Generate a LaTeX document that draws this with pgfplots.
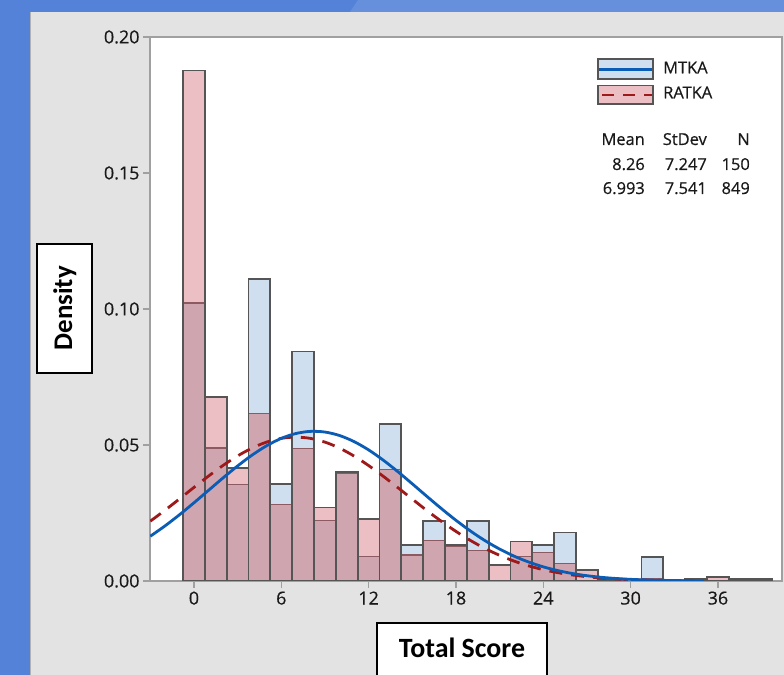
\documentclass[border=0pt]{standalone}
\usepackage{pgfplots}
\pgfplotsset{compat=1.18}
\usepackage{fontspec}
\setmainfont{Open Sans}
\newfontfamily\semib{Open Sans}[FakeBold=0.5]
\newfontfamily\lblfont{Carlito}
\definecolor{bgblue}{HTML}{5482D9}
\definecolor{bgblue2}{HTML}{6690DC}
\definecolor{panel}{HTML}{E3E3E3}
\definecolor{mtkafill}{HTML}{CFDFF0}
\definecolor{ratkafill}{HTML}{EBBFC3}
\definecolor{overlap}{HTML}{CFA6B0}
\definecolor{barline}{HTML}{555555}
\definecolor{innerline}{HTML}{8E5A62}
\definecolor{mtkaline}{HTML}{0B5CB5}
\definecolor{ratkaline}{HTML}{9E1A1A}
\definecolor{axgray}{HTML}{A0A0A0}
\begin{document}
\begin{tikzpicture}[x=1bp,y=1bp]
\useasboundingbox (0,0) rectangle (784,675);
\fill[bgblue] (0,0) rectangle (784,675);
\fill[bgblue2] (350,663) -- (358,675) -- (784,675) -- (784,663) -- cycle;
\fill[panel] (30,0) rectangle (784,663);
\draw[gray!60, line width=1bp] (30.5,0) -- (30.5,663);
\begin{axis}[
  at={(150bp,94bp)}, anchor=south west,
  scale only axis, width=632bp, height=544bp,
  xmin=-3.02, xmax=40.4, ymin=0, ymax=0.2,
  xtick={0,6,12,18,24,30,36},
  ytick={0,0.05,0.10,0.15,0.20},
  tick pos=left, tick align=outside,
  major tick length=7bp,
  tick style={axgray, line width=1.2bp},
  axis line style={axgray, line width=1.5bp},
  axis background/.style={fill=white},
  ticklabel style={font=\semib\fontsize{18}{20}\selectfont, color=black!90},
  /pgf/number format/assume math mode=true,
  yticklabel style={/pgf/number format/fixed, /pgf/number format/fixed zerofill, /pgf/number format/precision=2},
]
% MTKA bars
\addplot[ybar, bar width=1.5, bar shift=0pt, fill=mtkafill, draw=none] coordinates {
(0,0.1022) (1.5,0.0489) (3,0.0356) (4.5,0.1111) (6,0.0356) (7.5,0.0844) (9,0.0222) (10.5,0.0400)
(12,0.0089) (13.5,0.0578) (15,0.0133) (16.5,0.0222) (18,0.0133) (19.5,0.0222)
(22.5,0.0089) (24,0.0133) (25.5,0.0178) (31.5,0.0089)};
% RATKA bars
\addplot[ybar, bar width=1.5, bar shift=0pt, fill=ratkafill, draw=none] coordinates {
(0,0.1877) (1.5,0.0675) (3,0.0416) (4.5,0.0616) (6,0.0280) (7.5,0.0487) (9,0.0270) (10.5,0.0396)
(12,0.0228) (13.5,0.0411) (15,0.0096) (16.5,0.0149) (18,0.0126) (19.5,0.0111) (21,0.0059)
(22.5,0.0145) (24,0.0105) (25.5,0.0065) (27,0.0039) (28.5,0.0008) (31.5,0.0008)
(34.5,0.0008) (36,0.0016) (37.5,0.0008) (39,0.0008)};
% overlap (lower of the two)
\addplot[ybar, bar width=1.5, bar shift=0pt, fill=overlap, draw=innerline, line width=1.3bp] coordinates {
(0,0.1022) (1.5,0.0489) (3,0.0356) (4.5,0.0616) (6,0.0280) (7.5,0.0487) (9,0.0222) (10.5,0.0396)
(12,0.0089) (13.5,0.0411) (15,0.0096) (16.5,0.0149) (18,0.0126) (19.5,0.0111)
(22.5,0.0089) (24,0.0105) (25.5,0.0065) (31.5,0.0008)};
% outlines (higher of the two)
\addplot[ybar, bar width=1.5, bar shift=0pt, fill=none, draw=barline, line width=1.8bp] coordinates {
(0,0.1877) (1.5,0.0675) (3,0.0416) (4.5,0.1111) (6,0.0356) (7.5,0.0844) (9,0.0270) (10.5,0.0400)
(12,0.0228) (13.5,0.0578) (15,0.0133) (16.5,0.0222) (18,0.0133) (19.5,0.0222) (21,0.0059)
(22.5,0.0145) (24,0.0133) (25.5,0.0178) (27,0.0039) (28.5,0.0008) (31.5,0.0089)
(34.5,0.0008) (36,0.0016) (37.5,0.0008) (39,0.0008)};
% RATKA normal fit
\addplot[smooth, ratkaline, line width=2.8bp, dash pattern=on 13bp off 9bp] coordinates {
(-3,0.02199) (-2,0.02598) (-1,0.03016) (0,0.03441) (1,0.03857) (2,0.04249) (3,0.04598)
(4,0.04890) (5,0.05109) (6,0.05244) (7,0.05290) (8,0.05243) (9,0.05106) (10,0.04886)
(11,0.04593) (12,0.04244) (13,0.03852) (14,0.03435) (15,0.03011) (16,0.02592) (17,0.02193)
(18,0.01823) (19,0.01489) (20,0.01195) (21,0.00943) (22,0.00730) (23,0.00556) (24,0.00416)
(25,0.00306) (26,0.00221) (27,0.00157) (28,0.00109) (29,0.00075) (30,0.00050) (31,0.00033)
(32,0.00022) (33,0.00014) (34,0.00009) (35,0.00005)};
% MTKA normal fit
\addplot[smooth, mtkaline, line width=2.8bp] coordinates {
(-3,0.01646) (-2,0.02021) (-1,0.02434) (0,0.02875) (1,0.03333) (2,0.03791) (3,0.04230)
(4,0.04631) (5,0.04975) (6,0.05244) (7,0.05422) (8,0.05501) (9,0.05476) (10,0.05349)
(11,0.05125) (12,0.04819) (13,0.04445) (14,0.04023) (15,0.03572) (16,0.03112) (17,0.02661)
(18,0.02231) (19,0.01836) (20,0.01482) (21,0.01174) (22,0.00912) (23,0.00696) (24,0.00520)
(25,0.00382) (26,0.00275) (27,0.00194) (28,0.00135) (29,0.00092) (30,0.00061) (31,0.00040)
(32,0.00026) (33,0.00016) (34,0.00010) (35,0.00006)};
\end{axis}
% legend
\draw[barline, line width=1.6bp, fill=mtkafill] (598,595.7) rectangle (653,615.7);
\draw[mtkaline, line width=2.8bp] (599,605.7) -- (652,605.7);
\draw[barline, line width=1.6bp, fill=ratkafill] (598,570.7) rectangle (653,589.3);
\draw[ratkaline, line width=2.8bp, dash pattern=on 12bp off 9bp, dash phase=-2bp] (600,580) -- (652,580);
\begin{scope}[every node/.style={inner sep=0pt, font=\semib\fontsize{16.5}{18}\selectfont, text=black!90}]
\node[anchor=base west] at (663,601.7) {MTKA};
\node[anchor=base west] at (663,576.7) {RATKA};
\node[anchor=base east] at (645,530) {Mean};
\node[anchor=base east] at (707,530) {StDev};
\node[anchor=base east] at (750,530) {N};
\node[anchor=base east] at (645,505) {8.26};
\node[anchor=base east] at (707,505) {7.247};
\node[anchor=base east] at (750,505) {150};
\node[anchor=base east] at (645,481) {6.993};
\node[anchor=base east] at (707,481) {7.541};
\node[anchor=base east] at (750,481) {849};
\end{scope}
% axis titles in boxes
\node[draw=black, line width=1.8bp, fill=white, rotate=90, minimum width=129bp, minimum height=55bp, inner sep=0pt,
  font=\lblfont\bfseries\fontsize{27}{30}\selectfont] at (64.8,366.7) {Density};
\draw[black, line width=1.8bp, fill=white] (377,52.3) rectangle (547,-10);
\node[anchor=base, inner sep=0pt, font=\lblfont\bfseries\fontsize{28}{30}\selectfont] at (462,17) {Total Score};
\end{tikzpicture}
\end{document}
